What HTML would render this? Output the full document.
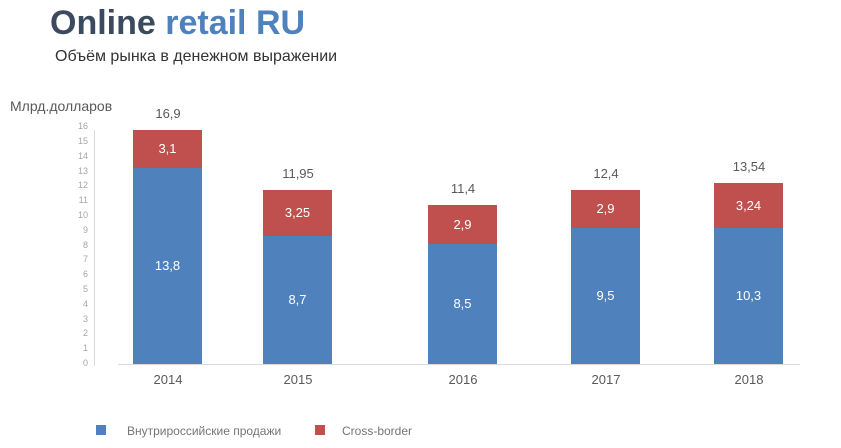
<!DOCTYPE html><html><head><meta charset="utf-8"><style>
body{margin:0;width:841px;height:448px;background:#fff;position:relative;overflow:hidden;font-family:"Liberation Sans","DejaVu Sans",sans-serif}
.a{position:absolute;white-space:nowrap}
.t{font-size:9px;color:#a6a6a6;width:20px;text-align:right;left:68px}
.b{position:absolute;width:69px}
.l{position:absolute;width:69px;text-align:center;font-size:13px;color:#fff}
.v{position:absolute;width:90px;text-align:center;font-size:13px;color:#595959}
</style></head><body>
<div class="a" style="left:50px;top:4px;font-size:34px;font-weight:bold;color:#3b4a5e">Online <span style="color:#4f81bd">retail RU</span></div>
<div class="a" style="left:55px;top:48px;font-size:16px;color:#333">Объём рынка в денежном выражении</div>
<div class="a" style="left:10px;top:98px;font-size:14px;color:#595959">Млрд.долларов</div>
<div class="a" style="left:94px;top:130px;width:1px;height:236px;background:#d9d9d9"></div>
<div class="a" style="left:118px;top:364px;width:682px;height:1px;background:#d9d9d9"></div>
<div id="ticks"></div>
<script>
var h='';for(var i=0;i<=16;i++){var y=358-i*14.8;h+='<div class="a t" style="top:'+y+'px">'+i+'</div>';}
document.getElementById('ticks').innerHTML=h;
var d=[[133,130,168,'13,8','3,1','16,9',2014],[263,190,236,'8,7','3,25','11,95',2015],[428,205,244,'8,5','2,9','11,4',2016],[571,190,228,'9,5','2,9','12,4',2017],[714,183,228,'10,3','3,24','13,54',2018]];
var s='';d.forEach(function(r){var x=r[0];
s+='<div class="b" style="left:'+x+'px;top:'+r[1]+'px;height:'+(r[2]-r[1])+'px;background:#c0504d"></div>';
s+='<div class="b" style="left:'+x+'px;top:'+r[2]+'px;height:'+(364-r[2])+'px;background:#4f81bd"></div>';
s+='<div class="l" style="left:'+x+'px;top:'+((r[1]+r[2])/2-8)+'px">'+r[4]+'</div>';
s+='<div class="l" style="left:'+x+'px;top:'+((r[2]+364)/2-8)+'px">'+r[3]+'</div>';
s+='<div class="v" style="left:'+(x-10)+'px;top:'+(r[1]-24)+'px">'+r[5]+'</div>';
s+='<div class="v" style="left:'+(x-10)+'px;top:372px">'+r[6]+'</div>';});
document.body.insertAdjacentHTML('beforeend',s);
</script>
<div class="a" style="left:96px;top:425px;width:10px;height:10px;background:#4f81bd"></div>
<div class="a" style="left:127px;top:424px;font-size:12px;color:#757575">Внутрироссийские продажи</div>
<div class="a" style="left:315px;top:425px;width:10px;height:10px;background:#c0504d"></div>
<div class="a" style="left:342px;top:424px;font-size:12px;color:#757575">Cross-border</div>
</body></html>
